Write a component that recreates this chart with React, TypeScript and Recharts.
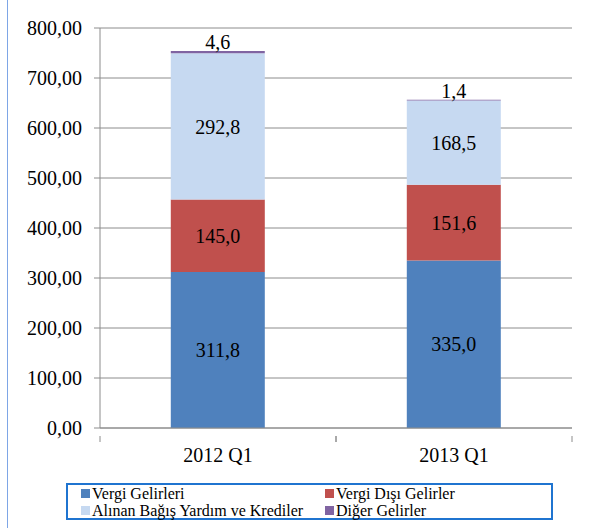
import React from "react"
import { BarChart, Bar, XAxis, YAxis, CartesianGrid, LabelList } from "recharts"

const quarters = ["2012 Q1", "2013 Q1"]
const vergiGelirleri = [311.8, 335.0]
const vergiDisiGelirler = [145.0, 151.6]
const bagisYardimKrediler = [292.8, 168.5]
const digerGelirler = [4.6, 1.4]
const yTicks = [0, 100, 200, 300, 400, 500, 600, 700, 800]

const series = [
  { key: "vergi", name: "Vergi Gelirleri", color: "#4f81bd", values: vergiGelirleri },
  { key: "disi", name: "Vergi Dışı Gelirler", color: "#c0504d", values: vergiDisiGelirler },
  { key: "bagis", name: "Alınan Bağış Yardım ve Krediler", color: "#c6d9f1", values: bagisYardimKrediler },
  { key: "diger", name: "Diğer Gelirler", color: "#8064a2", values: digerGelirler },
]

const data = quarters.map((q, i) => {
  const row: Record<string, string | number> = { quarter: q }
  series.forEach((s) => (row[s.key] = s.values[i]))
  return row
})

const font = "Liberation Serif"
const gray = "#8c8c8c"
const fmt1 = (v: any) => Number(v).toFixed(1).replace(".", ",")
const fmt2 = (v: any) => Number(v).toFixed(2).replace(".", ",")

// category ticks sit on band edges, like the original
function QuarterTick(props: any) {
  const { x, y, payload } = props
  const half = payload && payload.offset ? payload.offset : 118
  return (
    <g>
      <line x1={x - half} y1={y} x2={x - half} y2={y + 6} stroke={gray} />
      <line x1={x + half} y1={y} x2={x + half} y2={y + 6} stroke={gray} />
      <text x={x} y={y + 26} textAnchor="middle" fontSize={20} fontFamily={font} fill="#000">
        {payload.value}
      </text>
    </g>
  )
}

export default function App() {
  return (
    <div style={{ position: "absolute", left: 0, top: 0, width: 590, height: 528, background: "#fff" }}>
      <div style={{ position: "absolute", left: 7, top: 0, width: 1, height: 528, background: "#7ea6e6" }} />
      <BarChart
        width={590}
        height={528}
        data={data}
        margin={{ top: 28, right: 18, left: 0, bottom: 0 }}
        barCategoryGap="30%"
      >
        <CartesianGrid horizontal vertical={false} stroke={gray} />
        <XAxis
          dataKey="quarter"
          height={100}
          axisLine={{ stroke: gray }}
          tickLine={false}
          tick={<QuarterTick />}
          interval={0}
        />
        <YAxis
          width={100}
          domain={[0, 800]}
          ticks={yTicks}
          tickFormatter={fmt2}
          axisLine={{ stroke: gray }}
          tickLine={{ stroke: gray }}
          tickSize={6}
          tickMargin={12}
          tick={{ fontSize: 20, fontFamily: font, fill: "#000" }}
        />
        {series.map((s) => (
          <Bar key={s.key} dataKey={s.key} name={s.name} stackId="a" fill={s.color} isAnimationActive={false}>
            <LabelList
              dataKey={s.key}
              position={s.key === "diger" ? "top" : "center"}
              offset={2}
              formatter={fmt1}
              fill="#000"
              fontSize={20}
              fontFamily={font}
            />
          </Bar>
        ))}
      </BarChart>
      <div
        style={{
          position: "absolute",
          left: 66,
          top: 483,
          width: 483,
          height: 33,
          border: "2px solid #1f74d0",
          fontFamily: font,
          fontSize: 16,
          color: "#000",
        }}
      >
        {series.map((s, i) => (
          <div
            key={s.key}
            style={{
              position: "absolute",
              left: i % 2 === 0 ? 13 : 257,
              top: i < 2 ? 0 : 17,
              height: 17,
              lineHeight: "17px",
              whiteSpace: "nowrap",
              display: "flex",
              alignItems: "center",
            }}
          >
            <span style={{ display: "inline-block", width: 9, height: 9, background: s.color, marginRight: 2 }} />
            {s.name}
          </div>
        ))}
      </div>
    </div>
  )
}
